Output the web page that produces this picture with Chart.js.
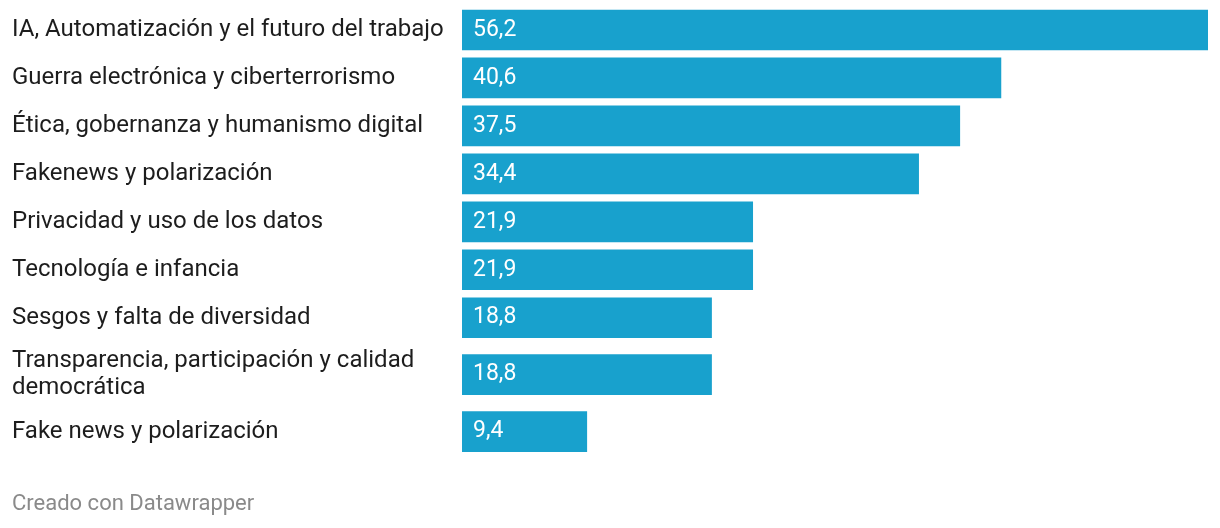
<!DOCTYPE html>
<html>
<head>
<meta charset="utf-8">
<script src="https://cdn.jsdelivr.net/npm/chart.js@4/dist/chart.umd.min.js"></script>
<style>
  html, body { margin: 0; padding: 0; background: #fff; }
  #wrap { width: 1220px; height: 528px; position: relative; }
</style>
</head>
<body>
<div id="wrap"><canvas id="c"></canvas></div>
<script>
const categories = [
  'IA, Automatización y el futuro del trabajo',
  'Guerra electrónica y ciberterrorismo',
  'Ética, gobernanza y humanismo digital',
  'Fakenews y polarización',
  'Privacidad y uso de los datos',
  'Tecnología e infancia',
  'Sesgos y falta de diversidad',
  ['Transparencia, participación y calidad', 'democrática'],
  'Fake news y polarización'
];
const values = [56.2, 40.6, 37.5, 34.4, 21.9, 21.9, 18.8, 18.8, 9.4];
const footerText = 'Creado con Datawrapper';

// Row slots: each extra label line makes its row a bit taller (derived from labels)
const lineCounts = categories.map(c => Array.isArray(c) ? c.length : 1);
const rowSizes = lineCounts.map(n => 1 + 0.375 * (n - 1));
const rowCenters = [];
let acc = 0;
rowSizes.forEach(s => { rowCenters.push(acc + s / 2); acc += s; });
const totalRows = acc;

const FONT = 'Roboto, "Noto Sans", sans-serif';
const fmt = v => v.toFixed(1).replace('.', ',');

const valueLabels = {
  id: 'valueLabels',
  afterDatasetsDraw(chart) {
    const ctx = chart.ctx;
    const meta = chart.getDatasetMeta(0);
    ctx.save();
    ctx.fillStyle = '#ffffff';
    ctx.font = '23px ' + FONT;
    ctx.textAlign = 'left';
    ctx.textBaseline = 'middle';
    meta.data.forEach((bar, i) => {
      ctx.fillText(fmt(values[i]), bar.base + 11, bar.y);
    });
    ctx.restore();
  }
};

new Chart(document.getElementById('c'), {
  type: 'bar',
  data: {
    datasets: [{
      data: values.map((v, i) => ({ x: v, y: rowCenters[i] })),
      backgroundColor: '#18a1cd',
      borderWidth: 0,
      barThickness: 40
    }]
  },
  options: {
    indexAxis: 'y',
    responsive: true,
    maintainAspectRatio: false,
    animation: false,
    layout: { padding: { left: 12, right: 12, top: 6, bottom: 0 } },
    plugins: {
      legend: { display: false },
      tooltip: { enabled: false },
      title: {
        display: true,
        text: footerText,
        position: 'bottom',
        align: 'start',
        color: '#8a8a8a',
        font: { family: FONT, size: 22, weight: 'normal', lineHeight: 1.2 },
        padding: { top: 35.5, bottom: 10.5 }
      }
    },
    scales: {
      x: {
        display: false,
        min: 0,
        max: Math.max(...values)
      },
      y: {
        type: 'linear',
        reverse: true,
        offset: false,
        bounds: 'data',
        min: 0,
        max: totalRows,
        grid: { display: false, offset: false },
        border: { display: false },
        afterBuildTicks(scale) {
          scale.ticks = rowCenters.map(v => ({ value: v }));
        },
        afterFit(scale) {
          scale.width = 450;
          scale.paddingTop = 0;
          scale.paddingBottom = 0;
        },
        ticks: {
          autoSkip: false,
          crossAlign: 'far',
          padding: 0,
          color: '#1d1d1d',
          font: { family: FONT, size: 24, lineHeight: 1.14 },
          callback: (value, index) => categories[index]
        }
      }
    }
  },
  plugins: [valueLabels]
});
</script>
</body>
</html>
